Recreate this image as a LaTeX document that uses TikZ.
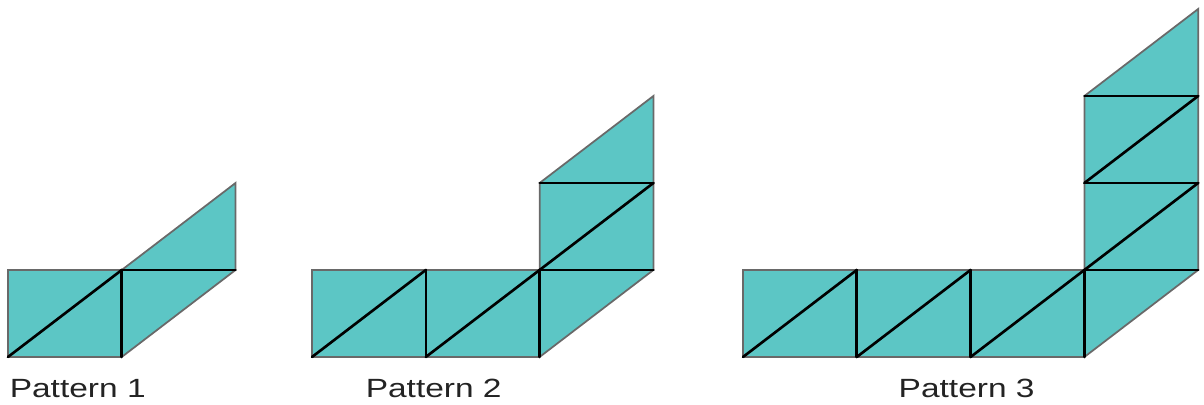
\documentclass[tikz,border=0pt]{standalone}
\usepackage{fontspec}
\setmainfont{Liberation Sans}
\usepackage{xcolor}
\definecolor{tilefill}{RGB}{92,198,197}
\definecolor{rimgray}{RGB}{105,105,105}
\definecolor{textgray}{RGB}{35,35,35}

\begin{document}
\begin{tikzpicture}[x=1.138cm,y=0.87cm,
    every node/.style={font=\fontsize{7.5}{9}\selectfont,inner sep=0pt,text=textgray},
    rim/.style={draw=rimgray,line width=0.5pt},
    seam/.style={draw=black,line width=0.75pt,line cap=round}]
  \useasboundingbox (0,0) rectangle (10.580,4.655);
  % n squares along the bottom, then a slanted column of n+1 steps
  \foreach \n/\xo/\lx in {1/0.070/0.010,2/2.742/0.466,3/6.529/1.362}{
    \begin{scope}[shift={(\xo,0.552)}]
      \filldraw[fill=tilefill,rim] (0,0) -- (\n,0) -- (\n+1,1) -- (\n+1,\n+1)
        -- (\n,\n) -- (\n,1) -- (0,1) -- cycle;
      \foreach \i in {1,...,\n}{
        \draw[seam] (\i-1,0) -- (\i,1);
        \draw[seam] (\i,0) -- (\i,1);
        \draw[seam] (\n,\i) -- (\n+1,\i);
        \ifnum\i>1 \draw[seam] (\n,\i-1) -- (\n+1,\i); \fi
      }
      \node[anchor=base west] (lab\n) at (\lx,-0.471) {\scalebox{1.27}[1]{Pattern \n}};
    \end{scope}
  }
\end{tikzpicture}
\end{document}
